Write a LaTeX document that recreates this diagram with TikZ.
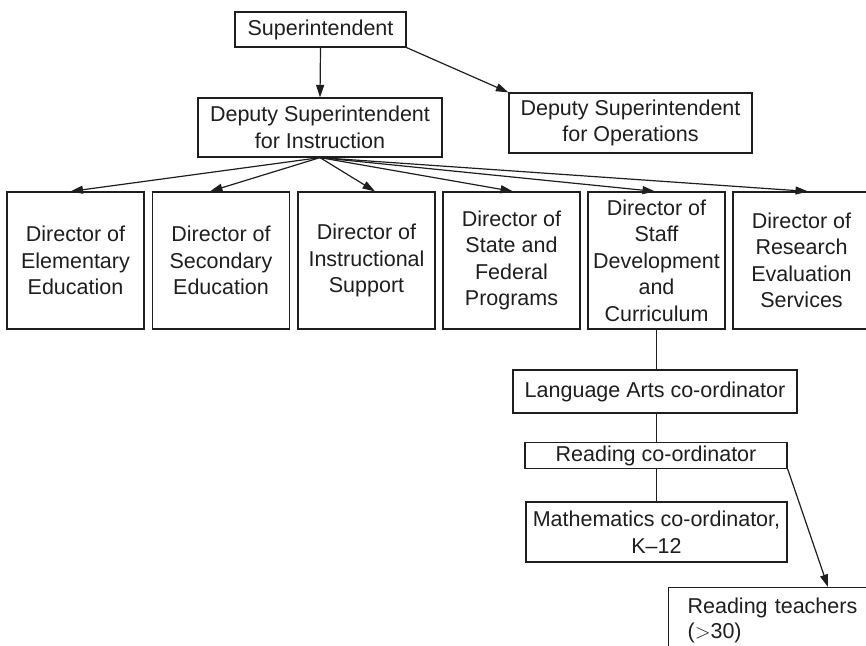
\documentclass[tikz,border=0pt]{standalone}
\usepackage{fontspec}
\setmainfont{Liberation Sans}
\usetikzlibrary{arrows.meta,calc}
\definecolor{ink}{HTML}{1E1E1E}
\begin{document}
\begin{tikzpicture}[x=1pt,y=-1pt,
  every node/.style={text=ink},
  box/.style={draw=ink,line width=1.2pt,inner sep=0pt,align=center,
    font=\fontsize{21.5}{26.5}\selectfont},
  dirbox/.style={box,minimum width=137pt,minimum height=137pt},
  link/.style={draw=ink,line width=1.2pt},
  arr/.style={link,-{Triangle[length=12.5pt,width=8pt]}}]
  \clip (0,0) rectangle (866,645);
  \useasboundingbox (0,0) rectangle (866,645);

  % top levels
  \node[box,minimum width=171pt,minimum height=35pt] (sup) at (320.5,29.5) {Superintendent};
  \node[box,minimum width=244pt,minimum height=59pt] (dinst) at (320,127.5) {Deputy Superintendent\\for Instruction};
  \node[box,minimum width=243pt,minimum height=60pt] (dops) at (630.5,123) {Deputy Superintendent\\for Operations};

  % directors
  \node[dirbox] (d1) at (75.5,260.5) {Director of\\Elementary\\Education};
  \node[dirbox] (d2) at (221,260.5) {Director of\\Secondary\\Education};
  \node[dirbox] (d3) at (366.5,260.5) {Director of\\Instructional\\Support};
  \node[dirbox] (d4) at (511.5,260.5) {Director of\\State and\\Federal\\Programs};
  \node[dirbox] (d5) at (656.5,260.5) {Director of\\Staff\\Development\\and\\Curriculum};
  \node[dirbox] (d6) at (801.5,260.5) {Director of\\Research\\Evaluation\\Services};

  % co-ordinators
  \node[box,minimum width=284pt,minimum height=43pt] (lang) at (655,391.5) {Language Arts co-ordinator};
  \node[box,minimum width=262pt,minimum height=25.5pt] (read) at (656,455.5) {Reading co-ordinator};
  \node[box,minimum width=261pt,minimum height=60pt] (math) at (656.5,532) {Mathematics co-ordinator,\\K\textendash12};
  \node[draw=ink,line width=1.2pt,anchor=north west,align=left,text width=200pt,
    inner xsep=19pt,inner ysep=10.5pt,text depth=60pt,
    font=\fontsize{21.5}{25}\selectfont] (teach) at (668,587) {Reading teachers\\($>$30)};

  % connectors
  \draw[arr] (sup.south) -- (dinst.north);
  \draw[arr] (sup.south east) -- (dops.north west);
  \draw[arr] (dinst.south) -- ($(d1.north)+(-5,0)$);
  \draw[arr] (dinst.south) -- ($(d2.north)+(-11,0)$);
  \draw[arr] (dinst.south) -- ($(d3.north)+(8.5,0)$);
  \draw[arr] (dinst.south) -- ($(d4.north)+(1.5,0)$);
  \draw[arr] (dinst.south) -- ($(d5.north)+(-1.5,0)$);
  \draw[arr] (dinst.south) -- ($(d6.north)+(6.5,0)$);
  \draw[link] (d5.south) -- (d5.south |- lang.north);
  \draw[link] (d5.south |- lang.south) -- (d5.south |- read.north);
  \draw[link] (d5.south |- read.south) -- (d5.south |- math.north);
  \draw[arr] (read.south east) -- ($(teach.north west)+(160,0)$);
\end{tikzpicture}
\end{document}
